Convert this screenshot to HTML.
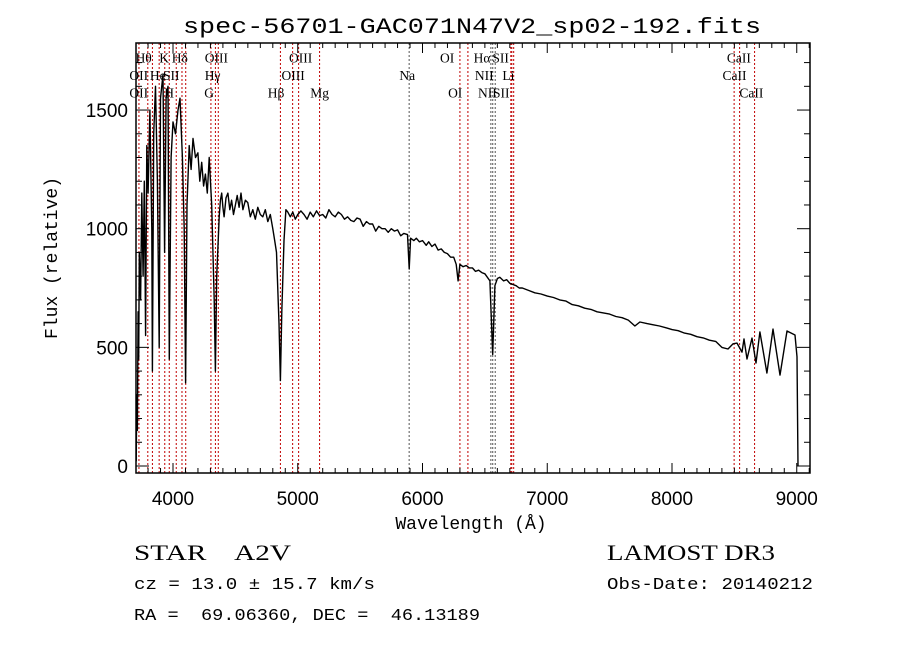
<!DOCTYPE html>
<html><head><meta charset="utf-8"><style>
html,body{margin:0;padding:0;background:#fff;}
svg{display:block;}
</style></head><body>
<svg id="chart" width="900" height="649" xmlns="http://www.w3.org/2000/svg">
<rect width="900" height="649" fill="#fff"/>
<text x="472" y="33" text-anchor="middle" font-family="Liberation Mono, monospace" font-size="22" textLength="578" lengthAdjust="spacingAndGlyphs">spec-56701-GAC071N47V2_sp02-192.fits</text>
<g id="lines"></g>
<g id="labels" font-family="Liberation Serif, serif" font-size="13.5"></g>
<g id="spec"></g>
<g id="axes"></g>
<text x="471" y="529" text-anchor="middle" font-family="Liberation Mono, monospace" font-size="18">Wavelength (Å)</text>
<text transform="translate(57,258) rotate(-90)" text-anchor="middle" font-family="Liberation Mono, monospace" font-size="18">Flux (relative)</text>
<text x="134" y="560" font-family="Liberation Serif, serif" font-size="22" xml:space="preserve" textLength="157" lengthAdjust="spacingAndGlyphs">STAR    A2V</text>
<text x="607" y="560" font-family="Liberation Serif, serif" font-size="22" textLength="168" lengthAdjust="spacingAndGlyphs">LAMOST DR3</text>
<text x="134" y="589" font-family="Liberation Mono, monospace" font-size="17" xml:space="preserve" textLength="241" lengthAdjust="spacingAndGlyphs">cz = 13.0 ± 15.7 km/s</text>
<text x="607" y="589" font-family="Liberation Mono, monospace" font-size="17" textLength="206" lengthAdjust="spacingAndGlyphs">Obs-Date: 20140212</text>
<text x="134" y="620" font-family="Liberation Mono, monospace" font-size="17" xml:space="preserve" textLength="346" lengthAdjust="spacingAndGlyphs">RA =  69.06360, DEC =  46.13189</text>
</svg>
<script>
const wave = [3705,3710,3715,3720,3725,3730,3740,3750,3760,3770,3780,3790,3800,3815,3830,3835,3845,3860,3875,3889,3900,3920,3933,3945,3960,3970,3985,4000,4020,4040,4056,4075,4090,4101,4112,4130,4145,4160,4180,4200,4215,4230,4245,4260,4275,4290,4310,4330,4340,4350,4370,4380,4390,4400,4410,4425,4440,4455,4470,4485,4500,4515,4530,4545,4560,4580,4600,4620,4640,4660,4680,4700,4720,4740,4760,4780,4800,4815,4830,4850,4861,4872,4890,4905,4920,4940,4960,4980,5000,5025,5050,5075,5100,5125,5150,5175,5200,5225,5250,5275,5300,5325,5350,5375,5400,5425,5450,5475,5500,5525,5550,5575,5600,5625,5650,5675,5700,5725,5750,5775,5800,5825,5850,5880,5893,5905,5930,5950,5975,6000,6030,6050,6075,6100,6125,6150,6175,6200,6225,6250,6270,6285,6300,6325,6350,6375,6400,6425,6450,6475,6500,6540,6563,6580,6600,6620,6650,6675,6700,6725,6750,6775,6800,6850,6900,6950,7000,7050,7100,7150,7200,7250,7300,7350,7400,7450,7500,7550,7600,7650,7703,7743,7800,7850,7900,7960,8000,8050,8100,8150,8200,8250,8300,8350,8400,8449,8490,8521,8561,8577,8601,8641,8673,8705,8761,8810,8866,8922,8986,9002,9010];
const flux = [20,300,150,650,450,900,700,1150,800,1200,550,1350,1150,1500,1000,400,1400,1600,1200,500,1550,1650,900,1550,1600,450,1300,1450,1400,1500,1550,1300,1000,350,1100,1350,1250,1380,1300,1320,1200,1280,1180,1230,1150,1300,1100,700,400,800,1050,1120,1150,1090,1050,1130,1150,1080,1120,1060,1100,1140,1090,1150,1080,1120,1110,1050,1080,1040,1090,1060,1050,1080,1030,1060,1000,950,900,600,360,650,950,1080,1070,1050,1070,1040,1060,1075,1060,1040,1070,1050,1075,1055,1060,1045,1080,1060,1050,1070,1060,1040,1050,1035,1030,1045,1040,1010,1030,1020,1020,990,1010,1000,1000,985,1000,990,995,970,980,975,830,960,950,960,945,950,930,945,925,935,910,915,900,895,880,880,850,780,850,840,845,835,835,820,825,815,810,780,470,760,790,795,780,785,770,765,760,750,750,740,730,725,716,710,700,695,680,675,665,660,650,645,640,630,625,615,590,607,600,595,590,581,575,570,560,555,545,540,530,525,500,493,515,518,480,535,451,539,434,565,392,577,383,569,552,460,0];
const xTicks = [4000,5000,6000,7000,8000,9000];
const yTicks = [0,500,1000,1500];
const lineWaves = [3727,3798,3835,3889,3934,3970,4026,4072,4102,4304,4340,4363,4861,4959,5007,5175,5893,6300,6364,6548,6563,6583,6708,6716,6731,8498,8542,8662];
const lineColors = ['r','r','r','r','r','r','r','r','r','r','r','r','r','r','r','r','k','r','r','k','k','k','r','r','r','r','r','r'];
const labelText = ['Hθ','K','Hδ','OIII','OIII','OI','Hα','SII','CaII','OII','He','SII','Hγ','OIII','Na','NII','Li','CaII','OII','H','G','Hβ','Mg','OI','NII','SII','CaII'];
const labelWave = [3700,3890,3990,4255,4930,6140,6410,6560,8440,3650,3815,3920,4255,4870,5815,6420,6640,8405,3650,3930,4250,4760,5100,6205,6445,6565,8540];
const labelRow = [1,1,1,1,1,1,1,1,1,2,2,2,2,2,2,2,2,2,3,3,3,3,3,3,3,3,3];

const L=136,R=810,T=43,B=473;
const X = w => 173 + (w-4000)*0.12475;
const Y = f => 466 - f*0.2373;
const NS='http://www.w3.org/2000/svg';
function mk(tag, attrs, parent){const e=document.createElementNS(NS,tag);for(const k in attrs)e.setAttribute(k,attrs[k]);parent.appendChild(e);return e;}

const lg=document.getElementById('lines');
lineWaves.forEach((w,i)=>{
  const l=mk('line',{x1:X(w),x2:X(w),y1:T,y2:B,stroke:lineColors[i]==='r'?'#c00000':'#555','stroke-width':1,'stroke-dasharray':'2,2'},lg);
  
  
});
const lb=document.getElementById('labels');
labelText.forEach((t,i)=>{
  const e=mk('text',{x:X(labelWave[i]),y:45+labelRow[i]*17.5},lb);
  e.textContent=t;
  
  
});
const sp=document.getElementById('spec');
let d='';
wave.forEach((w,i)=>{d+=(i?'L':'M')+X(w).toFixed(1)+','+Math.min(B,Math.max(T,Y(flux[i]))).toFixed(1);});
const p=mk('path',{d:d,fill:'none',stroke:'#000','stroke-width':1.4,'stroke-linejoin':'round'},sp);



const ax=document.getElementById('axes');
const box=mk('rect',{x:L,y:T,width:R-L,height:B-T,fill:'none',stroke:'#000','stroke-width':1.5},ax);


for(let w=3800;w<=9100;w+=100){
  const x=X(w); const major=(w%1000===0); const len=major?10:5;
  mk('line',{x1:x,x2:x,y1:B,y2:B-len,stroke:'#000'},ax);
  mk('line',{x1:x,x2:x,y1:T,y2:T+len,stroke:'#000'},ax);
}
for(let f=0;f<=1700;f+=100){
  const y=Y(f); const major=(f%500===0); const len=major?13:6;
  mk('line',{x1:L,x2:L+len,y1:y,y2:y,stroke:'#000'},ax);
  mk('line',{x1:R,x2:R-len,y1:y,y2:y,stroke:'#000'},ax);
}
xTicks.forEach(v=>{
  const t=mk('text',{x:X(v),y:505,'text-anchor':'middle','font-family':'Liberation Sans, sans-serif','font-size':19},ax);
  t.textContent=v;
  
  
});
yTicks.forEach(v=>{
  const t=mk('text',{x:128,y:Y(v)+7,'text-anchor':'end','font-family':'Liberation Sans, sans-serif','font-size':19},ax);
  t.textContent=v;
  
  
});
</script>
</body></html>
